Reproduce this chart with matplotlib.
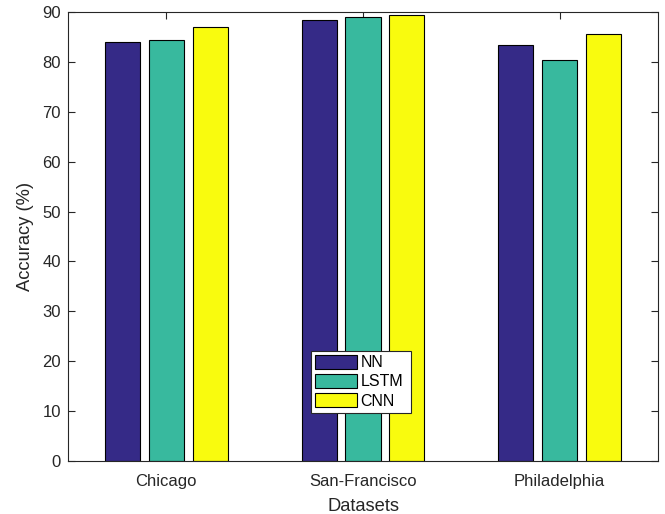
import numpy as np
import matplotlib.pyplot as plt

plt.rcParams['font.family'] = ['Liberation Sans', 'DejaVu Sans']

datasets = ['Chicago', 'San-Francisco', 'Philadelphia']
models = ['NN', 'LSTM', 'CNN']
nn = [84.0, 88.3, 83.4]
lstm = [84.3, 89.0, 80.3]
cnn = [87.0, 89.3, 85.6]
colors = ['#352a87', '#38b99e', '#f9fb0e']

fig = plt.figure(figsize=(6.65, 5.14), dpi=100)
ax = fig.add_axes([0.1023, 0.1031, 0.8872, 0.8736])

x = np.arange(1, len(datasets) + 1)
offset = 0.223
width = 0.179
for i, (vals, name) in enumerate(zip([nn, lstm, cnn], models)):
    ax.bar(x + (i - 1) * offset, vals, width, color=colors[i],
           edgecolor='black', linewidth=0.8, label=name, zorder=2)

ax.set_xlim(0.5, 3.5)
ax.set_ylim(0, 90)
ax.set_yticks(np.arange(0, 91, 10))
ax.set_xticks(x)
ax.set_xticklabels(datasets)
ax.tick_params(direction='in', length=5, width=0.8, top=True, right=True,
               labelsize=12, colors='#262626', pad=5)
ax.tick_params(axis='x', pad=9)
for s in ax.spines.values():
    s.set_linewidth(0.8)
    s.set_color('#262626')

ax.set_xlabel('Datasets', fontsize=13.2, color='#262626', labelpad=7)
ax.set_ylabel('Accuracy (%)', fontsize=13.2, color='#262626', labelpad=6)

leg = ax.legend(loc='lower left', bbox_to_anchor=(0.412, 0.108, 0.169, 0.153),
                mode='expand', fontsize=11.5, handlelength=2.6, handleheight=1.0,
                borderpad=0.25, labelspacing=0.22, handletextpad=0.25,
                fancybox=False, framealpha=1, borderaxespad=0)
leg.get_frame().set_edgecolor('#262626')
leg.get_frame().set_linewidth(0.8)

plt.savefig('out.png', dpi=100)
